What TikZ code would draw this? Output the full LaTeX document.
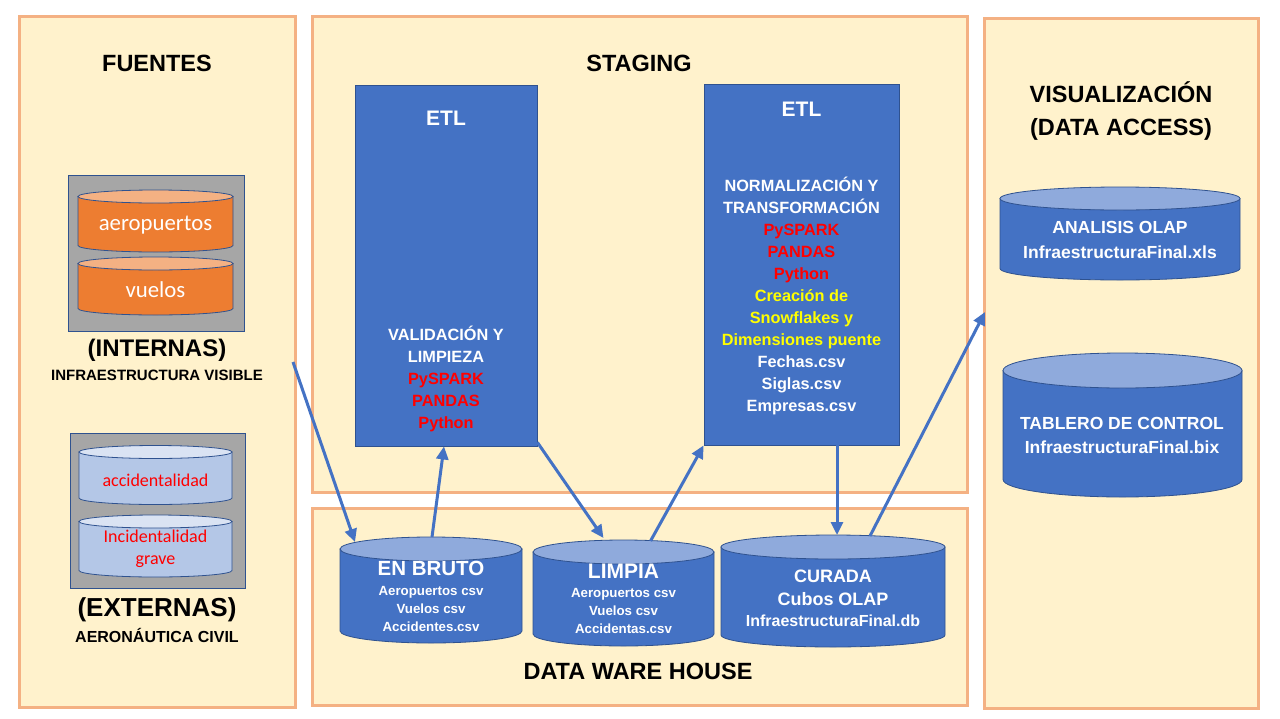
\documentclass[tikz,border=0pt]{standalone}
\usepackage{fontspec}
\setmainfont{Liberation Sans}
\newfontfamily\calibri{Carlito}
\usetikzlibrary{arrows.meta}

\definecolor{panelfill}{HTML}{FFF2CC}
\definecolor{paneldraw}{HTML}{F4B183}
\definecolor{etlblue}{HTML}{4472C4}
\definecolor{etldraw}{HTML}{2F528F}
\definecolor{dbtop}{HTML}{8FAADC}
\definecolor{srcgray}{HTML}{A6A6A6}
\definecolor{srcorange}{HTML}{ED7D31}
\definecolor{srcorangetop}{HTML}{F4B183}
\definecolor{srcblue}{HTML}{B4C7E7}
\definecolor{srcbluetop}{HTML}{DAE3F3}
\definecolor{txtred}{HTML}{FF0000}
\definecolor{txtyellow}{HTML}{FFFF00}

\tikzset{
  panel/.style={draw=paneldraw, fill=panelfill, line width=3pt},
  etlbox/.style={draw=etldraw, fill=etlblue, line width=0.8pt, inner sep=0pt},
  srcbox/.style={draw=etldraw, fill=srcgray, line width=0.8pt, inner sep=0pt},
  dbnode/.style={inner sep=0pt, outer sep=0pt},
  dbline/.style={draw=etldraw, line width=0.8pt},
  flow/.style={draw=etlblue, line width=3pt, -{Triangle[length=13pt,width=12pt]}},
  title/.style={inner sep=0pt, font=\bfseries\fontsize{23.5}{28}\selectfont},
  wtxt/.style={inner sep=0pt, text=white, align=center, font=\bfseries\fontsize{16.3}{22}\selectfont},
}

% cylinder round a node: node, x radius, y radius, body colour, top colour
\newcommand{\dbdraw}[5]{%
  \filldraw[dbline, fill=#4] (#1.north west) -- (#1.south west)
    arc[start angle=180, end angle=0, x radius=#2, y radius=#3] -- (#1.north east) -- cycle;
  \filldraw[dbline, fill=#5] (#1.north) ellipse[x radius=#2, y radius=#3];
}

\begin{document}
\begin{tikzpicture}[x=1pt,y=1pt,yscale=-1]
\fill[white] (0,0) rectangle (1280,718);
\useasboundingbox (0,0) rectangle (1280,718);

% panels
\draw[panel] (19,16) rectangle (295,707);
\draw[panel] (312,16) rectangle (967,492);
\draw[panel] (312,508) rectangle (967,705);
\draw[panel] (984,18) rectangle (1258,708);

% panel titles
\node[title] (tfuentes) at (157,63) {FUENTES};
\node[title] (tstaging) at (639,63) {STAGING};
\node[title] (tdwh) at (638,671) {DATA WARE HOUSE};
\node[inner sep=0pt, align=center, font=\bfseries\fontsize{23.5}{32.5}\selectfont] (tvis) at (1121,111) {VISUALIZACIÓN\\(DATA ACCESS)};

% fuentes
\node[srcbox, minimum width=176pt, minimum height=156pt] (srcint) at (156,253) {};
\node[dbnode, minimum width=155pt, minimum height=49pt] (aerop) at (155.5,221) {};
\dbdraw{aerop}{77.5}{6.5}{srcorange}{srcorangetop}
\node[dbnode, minimum width=155pt, minimum height=45pt] (vuelos) at (155.5,286) {};
\dbdraw{vuelos}{77.5}{6.5}{srcorange}{srcorangetop}
\node[inner sep=0pt, text=white, font=\calibri\fontsize{22.8}{26}\selectfont] (taerop) at (155.5,225) {aeropuertos};
\node[inner sep=0pt, text=white, font=\calibri\fontsize{22.8}{26}\selectfont] (tvuelos) at (155.5,290) {vuelos};
\node[inner sep=0pt, font=\bfseries\fontsize{24}{28}\selectfont] (tint) at (157,350) {(INTERNAS)};
\node[inner sep=0pt, font=\bfseries\fontsize{15}{18}\selectfont] (tintsub) at (157,375) {INFRAESTRUCTURA VISIBLE};

\node[srcbox, minimum width=175pt, minimum height=155pt] (srcext) at (157.5,510.5) {};
\node[dbnode, minimum width=153pt, minimum height=46pt] (accid) at (155.5,475) {};
\dbdraw{accid}{76.5}{6.5}{srcblue}{srcbluetop}
\node[dbnode, minimum width=153pt, minimum height=49pt] (incid) at (155.5,546) {};
\dbdraw{incid}{76.5}{6.5}{srcblue}{srcbluetop}
\node[inner sep=0pt, text=txtred, font=\calibri\fontsize{18}{22}\selectfont] (taccid) at (155.5,480) {accidentalidad};
\node[inner sep=0pt, text=txtred, align=center, font=\calibri\fontsize{18}{22}\selectfont] (tincid) at (155.5,549) {Incidentalidad\\grave};
\node[inner sep=0pt, font=\bfseries\fontsize{26}{30}\selectfont] (text) at (157,610) {(EXTERNAS)};
\node[inner sep=0pt, font=\bfseries\fontsize{16}{19}\selectfont] (textsub) at (157,635) {AERONÁUTICA CIVIL};

% staging
\node[etlbox, minimum width=182pt, minimum height=361pt] (etlvalida) at (446,265.5) {};
\node[wtxt, font=\bfseries\fontsize{21}{24}\selectfont] (tetl1) at (446,118) {ETL};
\node[wtxt] (tvalida) at (446,378.5) {VALIDACIÓN Y\\LIMPIEZA\\\textcolor{txtred}{PySPARK}\\\textcolor{txtred}{PANDAS}\\\textcolor{txtred}{Python}};

\node[etlbox, minimum width=195pt, minimum height=361pt] (etlnorm) at (801.5,264.5) {};
\node[wtxt, font=\bfseries\fontsize{21}{24}\selectfont] (tetl2) at (801.5,109) {ETL};
\node[wtxt] (tnorm) at (801.5,296) {NORMALIZACIÓN Y\\TRANSFORMACIÓN\\\textcolor{txtred}{PySPARK}\\\textcolor{txtred}{PANDAS}\\\textcolor{txtred}{Python}\\\textcolor{txtyellow}{Creación de}\\\textcolor{txtyellow}{Snowflakes y}\\\textcolor{txtyellow}{Dimensiones puente}\\Fechas.csv\\Siglas.csv\\Empresas.csv};

% data ware house
\node[dbnode, minimum width=182pt, minimum height=82pt] (bruto) at (431,590) {};
\dbdraw{bruto}{91}{12}{etlblue}{dbtop}
\node[wtxt, font=\bfseries\fontsize{20.5}{24}\selectfont] (tbruto) at (431,568) {EN BRUTO};
\node[wtxt, font=\bfseries\fontsize{13.3}{18}\selectfont] (fbruto) at (431,609) {Aeropuertos csv\\Vuelos csv\\Accidentes.csv};

\node[dbnode, minimum width=181pt, minimum height=82pt] (limpia) at (623.5,593) {};
\dbdraw{limpia}{90.5}{12}{etlblue}{dbtop}
\node[wtxt, font=\bfseries\fontsize{21}{24}\selectfont] (tlimpia) at (623.5,571) {LIMPIA};
\node[wtxt, font=\bfseries\fontsize{13.3}{18}\selectfont] (flimpia) at (623.5,611) {Aeropuertos csv\\Vuelos csv\\Accidentas.csv};

\node[dbnode, minimum width=224pt, minimum height=88pt] (curada) at (833,591) {};
\dbdraw{curada}{112}{12}{etlblue}{dbtop}
\node[wtxt, font=\bfseries\fontsize{18}{23}\selectfont] (tcurada) at (833,587.5) {CURADA\\Cubos OLAP};
\node[wtxt, font=\bfseries\fontsize{16}{20}\selectfont] (fcurada) at (833,621) {InfraestructuraFinal.db};

% visualizacion
\node[dbnode, minimum width=240pt, minimum height=70pt] (olap) at (1120,233.5) {};
\dbdraw{olap}{120}{11.5}{etlblue}{dbtop}
\node[wtxt, font=\bfseries\fontsize{17.5}{25}\selectfont] (tolap) at (1120,240) {ANALISIS OLAP\\InfraestructuraFinal.xls};
\node[dbnode, minimum width=239pt, minimum height=109pt] (tablero) at (1122.5,425) {};
\dbdraw{tablero}{119.5}{17.5}{etlblue}{dbtop}
\node[wtxt, font=\bfseries\fontsize{17.5}{24}\selectfont] (ttablero) at (1122,435) {TABLERO DE CONTROL\\InfraestructuraFinal.bix};

% flujos
\coordinate (fuentesout) at (293,362);
\coordinate (visin) at (985,312);
\draw[flow] (fuentesout) -- ([xshift=-76pt,yshift=-7pt]bruto.north);
\draw[flow] ([xshift=1pt,yshift=-12pt]bruto.north) -- ([xshift=-2pt]etlvalida.south);
\draw[flow] ([yshift=-4pt]etlvalida.south east) -- ([xshift=-20pt,yshift=-14pt]limpia.north);
\draw[flow] ([xshift=27pt,yshift=-11pt]limpia.north) -- (etlnorm.south west);
\draw[flow] ([xshift=35.5pt]etlnorm.south) -- ([xshift=4pt,yshift=-12pt]curada.north);
\draw[flow] ([xshift=37pt,yshift=-11pt]curada.north) -- (visin);

\end{tikzpicture}
\end{document}
